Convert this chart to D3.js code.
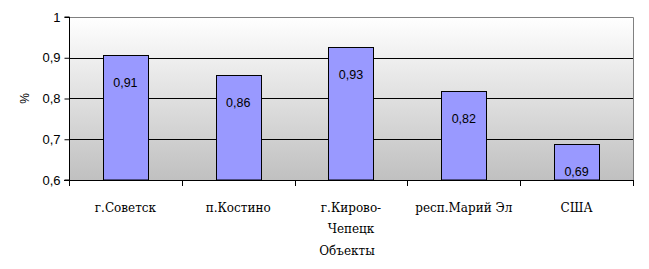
<!DOCTYPE html>
<html><head><meta charset="utf-8">
<script src="https://cdn.jsdelivr.net/npm/d3@7"></script>
<style>body{margin:0;background:#fff}svg{display:block}
.serif{font-family:"DejaVu Serif",serif;font-size:12px}
.sans{font-family:"Liberation Sans",Arial,sans-serif}
</style>
</head><body>
<svg id="c" width="649" height="269"></svg>
<script>
const categories = ["г.Советск", "п.Костино", "г.Кирово-|Чепецк", "респ.Марий Эл", "США"];
const values = [0.906, 0.857, 0.926, 0.818, 0.688];
const yTicks = [0.6, 0.7, 0.8, 0.9, 1];
const yLabel = "%";
const xTitle = "Объекты";

const svg = d3.select("#c");
const m = {l: 69, r: 633, t: 17, b: 180};
const x = d3.scaleBand().domain(categories).range([m.l, m.r]).padding(0);
const y = d3.scaleLinear().domain([0.6, 1]).range([m.b, m.t]);

const defs = svg.append("defs");
const g = defs.append("linearGradient").attr("id","bg").attr("x1",0).attr("y1",0).attr("x2",0).attr("y2",1);
g.append("stop").attr("offset","0%").attr("stop-color","#ffffff");
g.append("stop").attr("offset","100%").attr("stop-color","#c0c0c0");

svg.append("rect").attr("x", m.l).attr("y", m.t).attr("width", m.r - m.l).attr("height", m.b - m.t).attr("fill","url(#bg)");
svg.append("path").attr("d", `M${m.l},${m.t+0.5}H${m.r+0.5}V${m.b}`).attr("fill","none").attr("stroke","#808080");

svg.append("g").selectAll("line").data(yTicks.filter(d => d > 0.6 && d < 1)).join("line")
  .attr("x1", m.l).attr("x2", m.r).attr("y1", d => Math.round(y(d)) + 0.5).attr("y2", d => Math.round(y(d)) + 0.5)
  .attr("stroke","#000");

const bw = x.bandwidth() * 0.4;
svg.append("g").selectAll("rect").data(values).join("rect")
  .attr("x", (d,i) => Math.round(x(categories[i]) + x.bandwidth()/2 - bw/2) + 0.5)
  .attr("y", d => Math.round(y(d)) + 0.5)
  .attr("width", Math.round(bw))
  .attr("height", d => m.b - Math.round(y(d)) - 0.5)
  .attr("fill","#9999ff").attr("stroke","#000");

svg.append("g").selectAll("text").data(values).join("text")
  .attr("class","sans")
  .attr("x", (d,i) => x(categories[i]) + x.bandwidth()/2)
  .attr("y", d => y(d) + 32)
  .attr("text-anchor","middle")
  .attr("font-size", 12.5)
  .attr("fill","#000")
  .text(d => d3.format(".2f")(d).replace(".", ","));

const ya = d3.axisLeft(y).tickValues(yTicks).tickSize(5).tickFormat(d => String(d).replace(".", ","));
const yg = svg.append("g").attr("transform", `translate(${m.l + 0.5},0)`).call(ya);
yg.attr("font-family", null).attr("font-size", null);
yg.select(".domain").attr("stroke","#000").attr("d", `M-5,${m.t}H0V${m.b}H-5`);
yg.selectAll(".tick line").attr("stroke","#000");
yg.selectAll(".tick text").attr("class","sans").attr("font-size", 13).attr("fill","#000").attr("x", -9);

const xa = svg.append("g");
xa.append("line").attr("x1", m.l - 5).attr("x2", m.r + 1).attr("y1", m.b + 0.5).attr("y2", m.b + 0.5).attr("stroke","#000");
const bounds = categories.map(c => x(c)).concat([m.r]);
xa.selectAll("line.t").data(bounds).join("line").attr("class","t")
  .attr("x1", d => Math.round(d) + 0.5).attr("x2", d => Math.round(d) + 0.5)
  .attr("y1", m.b).attr("y2", m.b + 6).attr("stroke","#000");
xa.selectAll("text").data(categories).join("text")
  .attr("class","serif")
  .attr("x", d => x(d) + x.bandwidth()/2)
  .attr("y", 212)
  .attr("text-anchor","middle")
  .attr("fill","#000")
  .each(function(d){
    const parts = d.split("|");
    const t = d3.select(this);
    parts.forEach((p,i) => t.append("tspan").attr("x", x(d) + x.bandwidth()/2).attr("dy", i ? 21 : 0).text(p));
  });

svg.append("text").attr("class","serif").attr("x", (m.l + m.r)/2 - 4).attr("y", 255).attr("text-anchor","middle").text(xTitle);

svg.append("text").attr("class","sans").attr("transform", `translate(29,${(m.t+m.b)/2}) rotate(-90)`).attr("text-anchor","middle")
  .attr("font-size", 12).text(yLabel);
</script>
</body></html>
